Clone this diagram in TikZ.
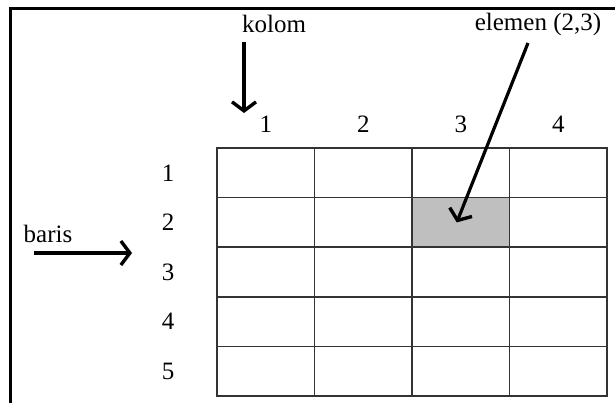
\documentclass[tikz,border=0pt]{standalone}
\usepackage{fontspec}
\setmainfont{Liberation Serif}
\usetikzlibrary{arrows.meta,positioning,backgrounds}

\begin{document}
\begin{tikzpicture}[x=1pt, y=-1pt,
  every node/.style={inner sep=0pt, font=\fontsize{25}{29}\selectfont},
  cell/.style={rectangle, draw=black!80, line width=1.8pt, minimum width=97.5pt, minimum height=49.6pt, outer sep=0pt},
  ptr/.style={line width=3.4pt, -{Straight Barb[length=9pt, width=24pt, line width=3.4pt]}}
]
\useasboundingbox (0,0) rectangle (615,403);
% Frame
\draw[line width=3pt] (10,420) -- (10,9) -- (630,9);
% Cells of the matrix
\foreach \r/\y in {1/172.8, 2/222.4, 3/272, 4/321.6, 5/371.2} {
  \foreach \c/\x in {1/265.75, 2/363.25, 3/460.75, 4/558.25} {
    \node[cell] (m\r\c) at (\x,\y) {};
  }
}
\begin{scope}[on background layer]
  \fill[black!25] (m23.north west) rectangle (m23.south east);
\end{scope}
% Column and row numbers
\foreach \c/\x in {1/265.75, 2/363.25, 3/460.75, 4/558.25}
  \node (k\c) at (\x,124) {\c};
\foreach \r/\y in {1/172.8, 2/222.4, 3/272, 4/321.6, 5/371.2}
  \node (b\r) at (168,\y) {\r};
% Labels
\node (kolom) at (274,24) {kolom};
\node (elemen) at (538,24) {elemen (2,3)};
\node (baris) at (48,234) {baris};
% Arrows
\coordinate (kolomA) at (244,42);
\coordinate (kolomB) at (244,113);
\coordinate (barisA) at (34,253);
\coordinate (barisB) at (132,253);
\coordinate (elemenA) at (528,43);
\draw[ptr] (kolomA) -- (kolomB);
\draw[ptr] (barisA) -- (barisB);
\draw[ptr, line width=3.2pt] (elemenA) -- ([xshift=-4pt]m23.center);
\end{tikzpicture}
\end{document}
